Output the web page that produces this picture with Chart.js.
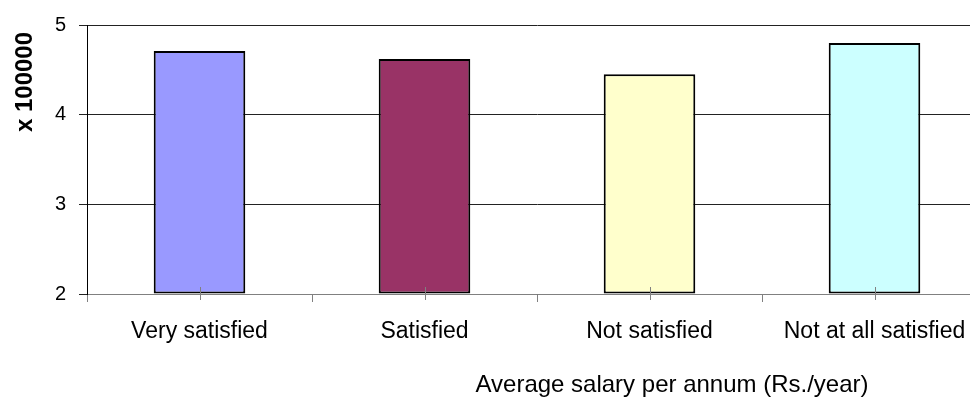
<!DOCTYPE html>
<html>
<head>
<meta charset="utf-8">
<script src="https://cdn.jsdelivr.net/npm/chart.js@4/dist/chart.umd.min.js"></script>
<style>
  html, body { margin: 0; padding: 0; background: #fff; overflow: hidden; width: 970px; height: 411px; }
  #wrap { width: 1000px; height: 411px; position: relative; }
</style>
</head>
<body>
<div id="wrap"><canvas id="c" width="1000" height="411"></canvas></div>
<script>
const categories = ["Very satisfied", "Satisfied", "Not satisfied", "Not at all satisfied"];
const salaryValues = [4.71, 4.62, 4.45, 4.80];
const barColors = ["#9999FF", "#993366", "#FFFFCC", "#CCFFFF"];
const yTicks = [2, 3, 4, 5];
const yTitle = "x 100000";
const xTitle = "Average salary per annum (Rs./year)";

const FONT = "'Liberation Sans', Arial, sans-serif";

const extras = {
  id: 'extras',
  afterDraw(chart) {
    const ctx = chart.ctx;
    const xs = chart.scales.x;
    const area = chart.chartArea;
    ctx.save();
    // center tick marks crossing the axis
    ctx.strokeStyle = '#808080';
    ctx.lineWidth = 1;
    categories.forEach((c, i) => {
      const px = Math.round(xs.getPixelForValue(i)) + 0.5;
      ctx.beginPath();
      ctx.moveTo(px, area.bottom - 7);
      ctx.lineTo(px, area.bottom + 6);
      ctx.stroke();
    });
    // y title
    ctx.fillStyle = '#000';
    ctx.font = "bold 24px " + FONT;
    ctx.textAlign = 'center';
    ctx.textBaseline = 'middle';
    ctx.translate(25, 82);
    ctx.rotate(-Math.PI / 2);
    ctx.fillText(yTitle, 0, 0);
    ctx.restore();
    // x title
    ctx.save();
    ctx.fillStyle = '#000';
    ctx.font = "24px " + FONT;
    ctx.textAlign = 'center';
    ctx.textBaseline = 'middle';
    ctx.fillText(xTitle, 672, 385);
    ctx.restore();
  }
};

new Chart(document.getElementById('c'), {
  type: 'bar',
  data: {
    labels: categories,
    datasets: [{
      data: salaryValues,
      backgroundColor: barColors,
      borderColor: '#000',
      borderWidth: 2,
      borderSkipped: false,
      base: 2,
      categoryPercentage: 1,
      barPercentage: 0.407
    }]
  },
  options: {
    responsive: false,
    animation: false,
    devicePixelRatio: 1,
    layout: { padding: { top: 21, right: 13, bottom: 0, left: 0 } },
    plugins: { legend: { display: false }, tooltip: { enabled: false }, title: { display: false } },
    scales: {
      x: {
        offset: true,
        grid: { display: true, offset: true, drawOnChartArea: false, drawTicks: true, tickLength: 8, color: '#808080' },
        border: { display: true, color: '#808080', width: 1 },
        ticks: { color: '#000', font: { family: FONT, size: 23 }, maxRotation: 0, autoSkip: false, padding: 16 },
        afterFit(scale) { scale.height = 117; }
      },
      y: {
        min: 2,
        max: 5,
        afterBuildTicks(scale) { scale.ticks = yTicks.map(v => ({ value: v })); },
        grid: { color: '#222', tickLength: 8, lineWidth: 1 },
        border: { display: true, color: '#000', width: 1 },
        ticks: { color: '#000', font: { family: FONT, size: 20 }, padding: 13 },
        afterFit(scale) { scale.width = 87; }
      }
    }
  },
  plugins: [extras]
});
</script>
</body>
</html>
